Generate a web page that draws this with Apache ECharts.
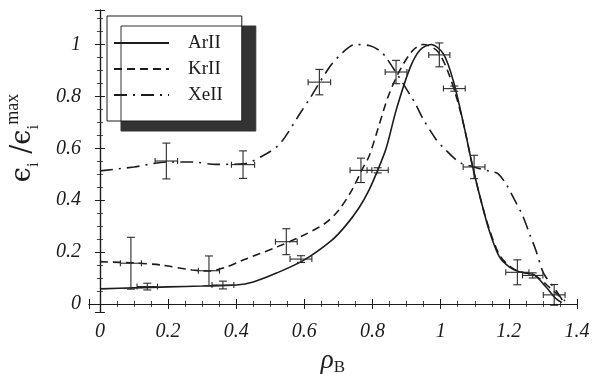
<!DOCTYPE html>
<html>
<head>
<meta charset="utf-8">
<script src="https://cdn.jsdelivr.net/npm/echarts@6/dist/echarts.min.js"></script>
<style>
  html, body { margin: 0; padding: 0; background: #fff; }
  #chart { width: 602px; height: 374px; }
</style>
</head>
<body>
<div id="chart"></div>
<script>
// fitted curves, [rho, eps/epsMax]
const arCurve = [[0, 0.058], [0.1, 0.062], [0.2, 0.066], [0.3, 0.069], [0.4, 0.073], [0.45, 0.085],
  [0.52, 0.12], [0.6, 0.17], [0.68, 0.245], [0.72, 0.3], [0.76, 0.37], [0.79, 0.44], [0.815, 0.515],
  [0.84, 0.6], [0.87, 0.75], [0.91, 0.91], [0.94, 0.98], [0.972, 1.0], [1.008, 0.964], [1.037, 0.86],
  [1.071, 0.67], [1.094, 0.528], [1.118, 0.4], [1.142, 0.285], [1.172, 0.182], [1.2, 0.144],
  [1.23, 0.124], [1.274, 0.112], [1.308, 0.067], [1.337, 0.022], [1.355, 0.005]];
const krCurve = [[0, 0.163], [0.1, 0.158], [0.18, 0.15], [0.27, 0.131], [0.32, 0.127], [0.37, 0.142],
  [0.42, 0.169], [0.52, 0.22], [0.59, 0.26], [0.66, 0.31], [0.7, 0.36], [0.74, 0.44], [0.77, 0.52],
  [0.79, 0.57], [0.817, 0.68], [0.846, 0.8], [0.88, 0.9], [0.918, 0.977], [0.948, 1.0], [0.99, 0.975],
  [1.02, 0.9], [1.05, 0.78], [1.071, 0.67], [1.094, 0.528], [1.118, 0.4], [1.142, 0.29],
  [1.172, 0.19], [1.2, 0.148], [1.23, 0.125], [1.274, 0.112], [1.31, 0.075], [1.34, 0.04],
  [1.365, 0.012]];
const xeCurve = [[0, 0.513], [0.1, 0.528], [0.2, 0.547], [0.27, 0.547], [0.34, 0.538], [0.42, 0.54],
  [0.49, 0.58], [0.53, 0.62], [0.59, 0.74], [0.615, 0.79], [0.674, 0.913], [0.713, 0.97],
  [0.748, 1.0], [0.79, 0.996], [0.82, 0.977], [0.84, 0.95], [0.923, 0.778], [0.948, 0.714],
  [0.986, 0.635], [1.01, 0.6], [1.054, 0.547], [1.098, 0.528], [1.147, 0.51], [1.167, 0.503],
  [1.191, 0.464], [1.22, 0.393], [1.24, 0.342], [1.264, 0.259], [1.279, 0.208], [1.298, 0.13],
  [1.308, 0.105], [1.337, 0.054], [1.357, 0.015]];

// measured points: [rho, value, rhoErr, valueErr]
const arPoints = [[0.139, 0.067, 0.03, 0.013], [0.361, 0.073, 0.032, 0.015], [0.59, 0.173, 0.032, 0.013],
  [0.815, 0.515, 0.031, 0.01], [0.996, 0.96, 0.031, 0.046], [1.04, 0.83, 0.032, 0.01],
  [1.27, 0.11, 0.03, 0.01]];
const krPoints = [[0.091, 0.157, 0.031, 0.1], [0.32, 0.128, 0.031, 0.057], [0.547, 0.24, 0.032, 0.05],
  [0.766, 0.515, 0.032, 0.047], [0.869, 0.894, 0.032, 0.045], [1.225, 0.122, 0.034, 0.048],
  [1.333, 0.035, 0.032, 0.04]];
const xePoints = [[0.195, 0.551, 0.033, 0.069], [0.42, 0.537, 0.034, 0.053], [0.644, 0.855, 0.033, 0.049],
  [1.098, 0.528, 0.032, 0.045]];

const names = ['ArII', 'KrII', 'XeII'];
const xRange = [-0.032, 1.4];
const yRange = [-0.031, 1.133];

const ink = '#1c1c1c';
const serif = 'Liberation Serif, DejaVu Serif, serif';

// only label the 0.2 steps, not the odd extent ticks
function tickLabel(v) {
  if (v < -1e-6 || Math.abs(v * 5 - Math.round(v * 5)) > 1e-6) return '';
  return String(Math.round(v * 10) / 10);
}

function frameAxis(pos, range, labels, extra) {
  return Object.assign({
    type: 'value',
    position: pos,
    min: range[0],
    max: range[1],
    splitLine: { show: false },
    axisLine: { show: true, lineStyle: { color: ink, width: 1.2 } },
    axisTick: { show: true, inside: true, length: 5, lineStyle: { color: ink } },
    minorTick: { show: true, splitNumber: 4, length: 3, lineStyle: { color: '#444' } },
    axisLabel: labels ? {
      show: true, formatter: tickLabel, color: ink, fontFamily: serif,
      fontStyle: 'italic', fontSize: 20
    } : { show: false }
  }, extra || {});
}

function errorBars(points) {
  return {
    type: 'custom',
    data: points,
    z: 4,
    renderItem: function (params, api) {
      const x = api.value(0), y = api.value(1), dx = api.value(2), dy = api.value(3);
      const l = api.coord([x - dx, y]), r = api.coord([x + dx, y]);
      const t = api.coord([x, y + dy]), b = api.coord([x, y - dy]);
      const st = { stroke: '#2a2a2a', lineWidth: 1.1 };
      const seg = (x1, y1, x2, y2) => ({ type: 'line', shape: { x1, y1, x2, y2 }, style: st });
      return {
        type: 'group',
        children: [
          seg(l[0], l[1], r[0], r[1]),
          seg(t[0], t[1], b[0], b[1]),
          seg(t[0] - 4, t[1], t[0] + 4, t[1]),
          seg(b[0] - 4, b[1], b[0] + 4, b[1]),
          seg(l[0], l[1] - 3, l[0], l[1] + 3),
          seg(r[0], r[1] - 3, r[0], r[1] + 3)
        ]
      };
    }
  };
}

const chart = echarts.init(document.getElementById('chart'), null, { renderer: 'canvas' });

chart.setOption({
  animation: false,
  backgroundColor: '#fff',
  grid: { left: 89, right: 25, top: 10, bottom: 62, containLabel: false, outerBoundsMode: 'none' },
  legend: {
    data: names,
    orient: 'vertical',
    left: 107,
    top: 16,
    padding: [17, 19, 16, 6],
    itemWidth: 55,
    itemHeight: 14,
    itemGap: 6,
    backgroundColor: '#fff',
    borderColor: ink,
    borderWidth: 1,
    shadowColor: '#333',
    shadowBlur: 0,
    shadowOffsetX: 14,
    shadowOffsetY: 10,
    itemStyle: { opacity: 0 },
    textStyle: { color: ink, fontFamily: serif, fontSize: 19, lineHeight: 20, padding: [0, 0, 0, 14] }
  },
  xAxis: [
    frameAxis('bottom', xRange, true, {
      splitNumber: 7,
      axisLabel: {
        show: true, formatter: tickLabel, color: ink, fontFamily: serif,
        fontStyle: 'italic', fontSize: 20, margin: 10
      },
      name: '{r|ρ}{b|B}',
      nameLocation: 'middle',
      nameGap: 34,
      nameTextStyle: {
        rich: {
          r: { fontFamily: serif, fontStyle: 'italic', fontSize: 27, color: ink, lineHeight: 30 },
          b: { fontFamily: serif, fontSize: 17, color: ink, lineHeight: 17, verticalAlign: 'bottom' }
        }
      }
    }),
    frameAxis('top', xRange, false, { splitNumber: 7 })
  ],
  yAxis: [
    frameAxis('left', yRange, true, {
      splitNumber: 5,
      axisLabel: {
        show: true, formatter: tickLabel, color: ink, fontFamily: serif,
        fontStyle: 'italic', fontSize: 20, margin: 8
      },
      name: '{e|ϵ}{s|i}{e| /ϵ}{s|i}{p|max}',
      nameLocation: 'middle',
      nameRotate: 90,
      nameGap: 47,
      nameTextStyle: {
        padding: [0, 0, 0, 46],
        rich: {
          e: { fontFamily: 'DejaVu Serif, serif', fontSize: 27, color: ink, lineHeight: 38 },
          s: { fontFamily: serif, fontSize: 17, color: ink, lineHeight: 17, verticalAlign: 'bottom' },
          p: { fontFamily: serif, fontSize: 18, color: ink, lineHeight: 18, verticalAlign: 'top' }
        }
      }
    }),
    frameAxis('right', yRange, false, { splitNumber: 5 })
  ],
  series: [
    {
      name: 'ArII', type: 'line', data: arCurve, smooth: 0.3, symbol: 'none', z: 3,
      lineStyle: { color: ink, width: 1.6, type: 'solid' },
      itemStyle: { color: ink },
      markLine: {
        silent: true, symbol: 'none', label: { show: false },
        lineStyle: { color: ink, width: 1, type: 'solid' },
        data: [{ xAxis: 0 }, { yAxis: 0 }]
      }
    },
    {
      name: 'KrII', type: 'line', data: krCurve, smooth: 0.3, symbol: 'none', z: 3,
      lineStyle: { color: ink, width: 1.6, type: [8, 5] },
      itemStyle: { color: ink }
    },
    {
      name: 'XeII', type: 'line', data: xeCurve, smooth: 0.3, symbol: 'none', z: 3,
      lineStyle: { color: ink, width: 1.6, type: [13, 6, 2, 6] },
      itemStyle: { color: ink }
    },
    errorBars(arPoints),
    errorBars(krPoints),
    errorBars(xePoints)
  ]
});
</script>
</body>
</html>
